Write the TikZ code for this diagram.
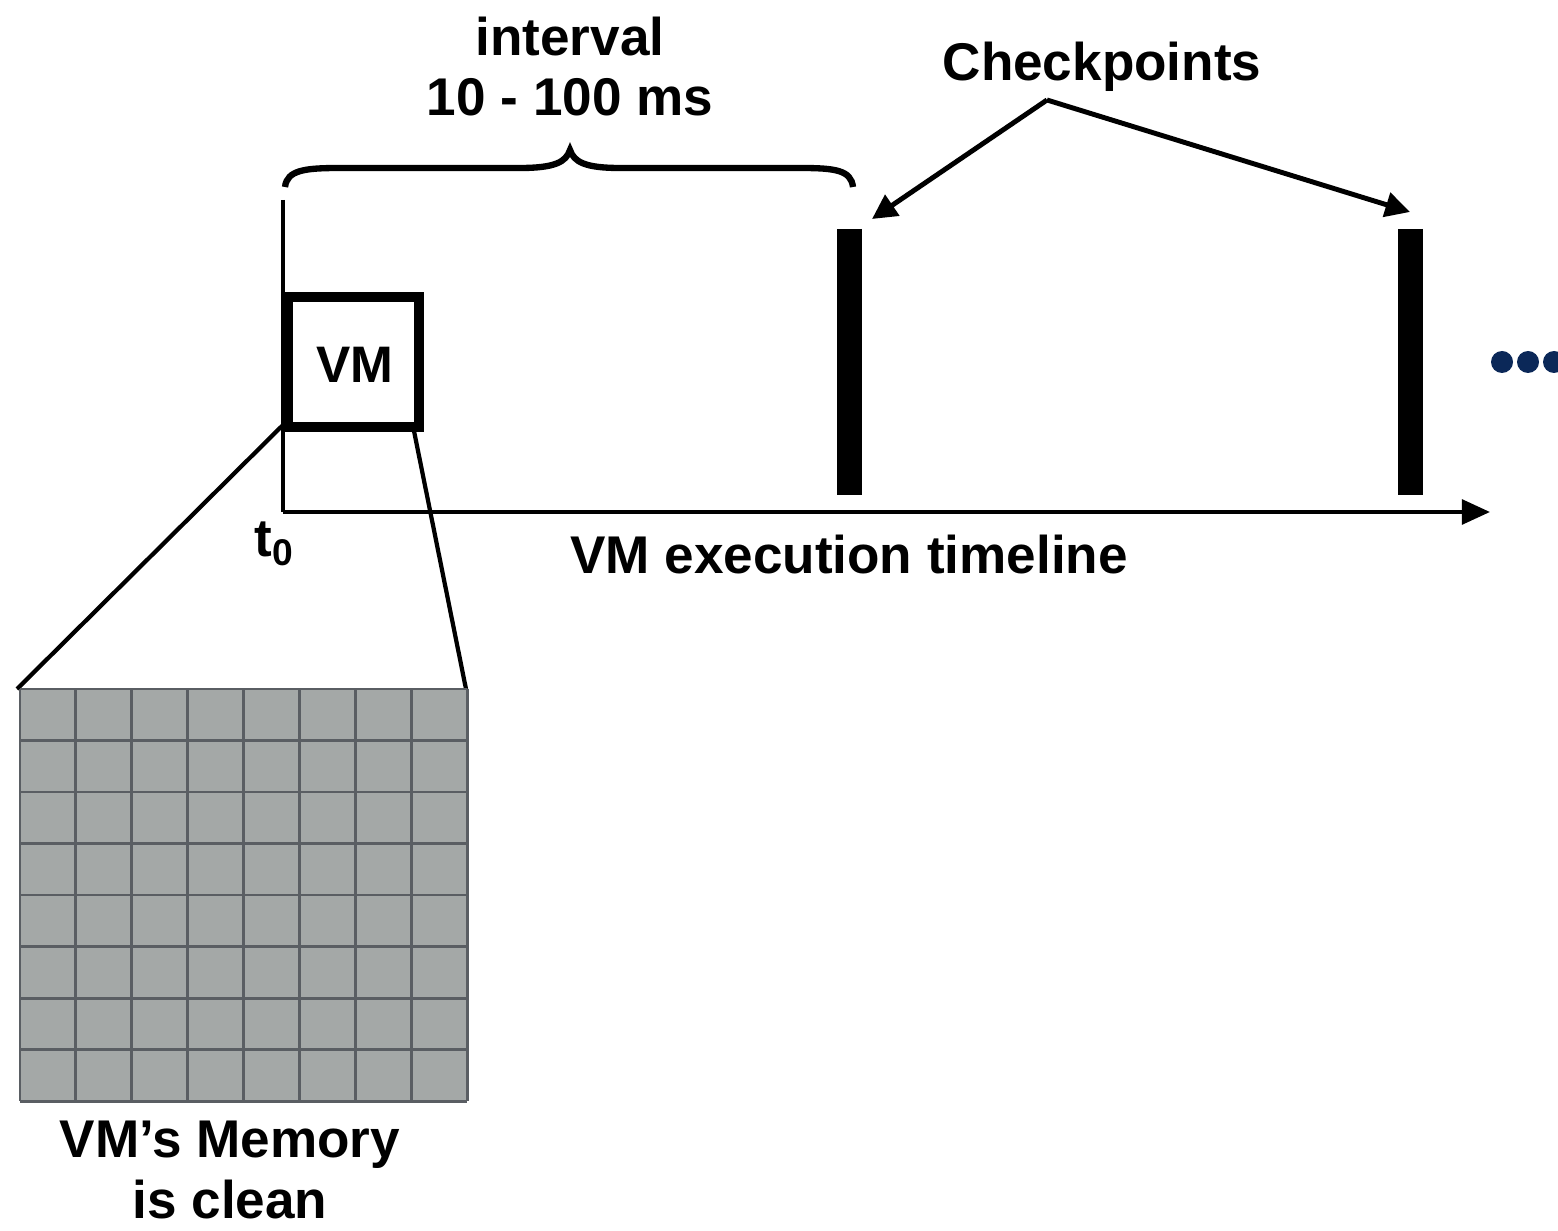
\documentclass[tikz,border=0pt]{standalone}
\usepackage{fontspec}
\setmainfont{Liberation Sans}
\usetikzlibrary{arrows.meta}
\definecolor{memfill}{HTML}{A4A8A7}
\definecolor{memline}{HTML}{5A5E63}
\definecolor{dotblue}{HTML}{0B2858}
\tikzset{
  lbl/.style={font=\fontsize{15.1}{17.2}\selectfont\bfseries, inner sep=0pt},
  thickline/.style={line width=1.2pt},
  bar/.style={line width=7.1pt},
  ptr/.style={line width=1.4pt, -{Triangle[length=7pt,width=7pt]}},
}
\begin{document}
\begin{tikzpicture}[x=0.01cm,y=-0.01cm]
\useasboundingbox (0,0) rectangle (1558,1231);
% axes
\coordinate (ytop) at (283,200);
\coordinate (origin) at (283,512);
\coordinate (xend) at (1490,512);
\draw[thickline] (ytop) -- (origin);
\draw[thickline,-{Triangle[length=8pt,width=7pt]}] (origin) -- (xend);
% checkpoint bars
\coordinate (c1top) at (849.5,229); \coordinate (c1bot) at (849.5,495);
\coordinate (c2top) at (1410.5,229); \coordinate (c2bot) at (1410.5,495);
\draw[bar] (c1top) -- (c1bot);
\draw[bar] (c2top) -- (c2bot);
% VM box
\node[draw, line width=2.6pt, minimum width=1.31cm, minimum height=1.30cm, inner sep=0pt] (vmbox) at (353.5,362) {};
\node[lbl, font=\fontsize{14.6}{17}\selectfont\bfseries] (vm) at (355,365) {VM};
% zoom lines
\coordinate (zl1) at (283,425); \coordinate (zl2) at (17,689);
\coordinate (zr1) at (414,431); \coordinate (zr2) at (466,689);
\draw[thickline] (zl1) -- (zl2);
\draw[thickline] (zr1) -- (zr2);
% memory grid
\fill[memfill] (20,689) rectangle (467,1101);
\foreach \i in {0,...,8} {
  \draw[memline, line width=0.85pt] ({20+\i*55.875},689) -- ({20+\i*55.875},1101);
  \draw[memline, line width=0.85pt] (20,{689+\i*51.5}) -- (467,{689+\i*51.5});
}
\node[lbl, align=center] (mem) at (230,1170) {VM’s Memory\\is clean};
% labels
\node[lbl] (t0) at (275,544) {t\textsubscript{0}};
\node[lbl] (tl) at (849,555) {VM execution timeline};
% brace
\coordinate (bl) at (285,187); \coordinate (br) at (853,187); \coordinate (btip) at (570,150);
\draw[line width=1.8pt] (bl) .. controls (287,170) and (305,168) .. (340,168) -- (520,168)
  .. controls (555,168) and (566,162) .. (btip)
  .. controls (574,162) and (585,168) .. (620,168) -- (800,168)
  .. controls (835,168) and (851,170) .. (br);
\node[lbl] (interval) at (570,37) {interval};
\node[lbl] (ms) at (570,97) {10 - 100 ms};
% checkpoints
\node[lbl] (cp) at (1102,67) {Checkpoints};
\coordinate (cpb) at (1047,100);
\coordinate (a1) at (872,219); \coordinate (a2) at (1410,212);
\draw[ptr] (cpb) -- (a1);
\draw[ptr] (cpb) -- (a2);
% dots
\foreach \x in {1502,1528,1554} \fill[dotblue] (\x,362) circle (11);
\end{tikzpicture}
\end{document}
